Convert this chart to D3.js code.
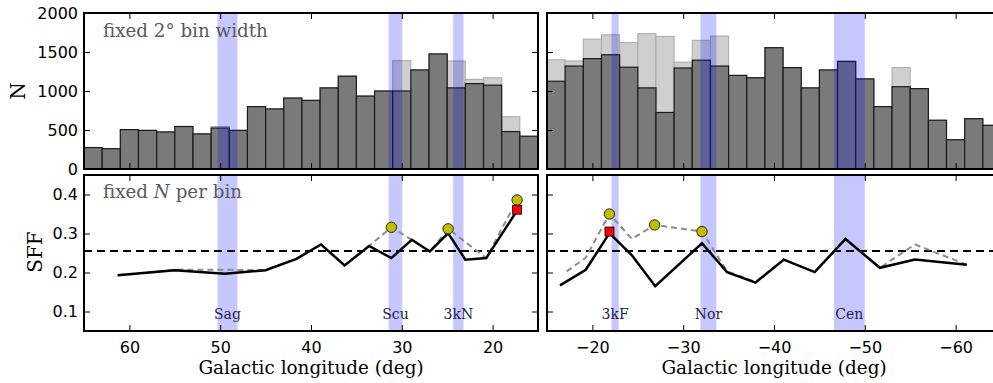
<!DOCTYPE html>
<html lang="en">
<head>
<meta charset="UTF-8">
<title>SFF vs Galactic longitude</title>
<script src="https://d3js.org/d3.v7.min.js"></script>
<style>
  body { margin: 0; background: #fff; }
  .tick text { font-family: "DejaVu Sans", sans-serif; font-size: 16px; fill: #000; }
  .serif { font-family: "DejaVu Serif", serif; }
</style>
</head>
<body>
<svg id="chart" width="993" height="383"></svg>
<script>
// ---- data: left panel (positive longitudes) ----
const leftCenters = [64, 62, 60, 58, 56, 54, 52, 50, 48, 46, 44, 42, 40, 38, 36, 34, 32, 30, 28, 26, 24, 22, 20, 18, 16];
const leftDark  = [275, 260, 505, 495, 475, 545, 450, 525, 495, 800, 770, 910, 880, 1040, 1190, 935, 1000, 1000, 1270, 1475, 1040, 1095, 1075, 480, 420];
const leftLight = [275, 260, 505, 495, 475, 545, 450, 545, 495, 800, 770, 910, 880, 1040, 1190, 935, 1000, 1390, 1270, 1475, 1385, 1150, 1170, 670, 420];

const leftSolidLon = [61.3, 55, 49.5, 45, 41.6, 38.9, 36.3, 33.6, 31.15, 28.9, 26.9, 24.9, 23.0, 20.7, 17.3];
const leftSolidSff = [0.193, 0.206, 0.197, 0.206, 0.235, 0.272, 0.218, 0.268, 0.237, 0.284, 0.254, 0.301, 0.233, 0.237, 0.359];
const leftDashLon = [61.3, 55, 49.5, 45, 41.6, 38.9, 36.3, 33.6, 31.15, 28.9, 26.9, 24.9, 20.7, 17.3];
const leftDashSff = [0.193, 0.207, 0.207, 0.206, 0.235, 0.272, 0.218, 0.268, 0.316, 0.284, 0.254, 0.312, 0.237, 0.386];
const leftCircleLon = [31.15, 24.9, 17.3];
const leftCircleSff = [0.316, 0.312, 0.386];
const leftSquareLon = [17.3];
const leftSquareSff = [0.361];

const leftBandNames = ["Sag", "Scu", "3kN"];
const leftBandLo = [48.1, 29.95, 23.2];
const leftBandHi = [50.3, 31.45, 24.35];

// ---- data: right panel (negative longitudes) ----
const rightCenters = [-16, -18, -20, -22, -24, -26, -28, -30, -32, -34, -36, -38, -40, -42, -44, -46, -48, -50, -52, -54, -56, -58, -60, -62, -64];
const rightDark  = [1125, 1320, 1415, 1465, 1305, 1040, 725, 1295, 1395, 1320, 1200, 1170, 1555, 1300, 1040, 1270, 1380, 1155, 800, 1055, 1030, 625, 375, 645, 560];
const rightLight = [1400, 1385, 1665, 1720, 1620, 1735, 1700, 1370, 1650, 1705, 1200, 1170, 1555, 1300, 1040, 1270, 1380, 1155, 800, 1300, 1030, 625, 375, 645, 560];

const rightSolidLon = [-16.43, -19.27, -21.88, -24.35, -26.92, -32.07, -34.83, -37.96, -41.08, -44.48, -47.87, -51.66, -55.52, -61.23];
const rightSolidSff = [0.167, 0.207, 0.301, 0.244, 0.165, 0.275, 0.201, 0.174, 0.233, 0.201, 0.286, 0.212, 0.233, 0.220];
const rightDashLon = [-17.17, -19.27, -21.88, -24.35, -26.85, -32.07, -34.83, -37.96, -41.08, -44.48, -47.87, -51.66, -55.52, -61.23];
const rightDashSff = [0.203, 0.238, 0.350, 0.286, 0.322, 0.305, 0.203, 0.176, 0.233, 0.201, 0.286, 0.212, 0.272, 0.220];
const rightCircleLon = [-21.88, -26.85, -32.07];
const rightCircleSff = [0.350, 0.322, 0.305];
const rightSquareLon = [-21.88];
const rightSquareSff = [0.305];

const rightBandNames = ["3kF", "Nor", "Cen"];
const rightBandLo = [-22.9, -33.65, -50.0];
const rightBandHi = [-22.1, -31.9, -46.6];

const sffMean = 0.255;
const leftTicks = [60, 50, 40, 30, 20];
const rightTicks = [-20, -30, -40, -50, -60];
const nTicks = [0, 500, 1000, 1500, 2000];
const sffTicks = [0.1, 0.2, 0.3, 0.4];

// ---- layout ----
const svg = d3.select("#chart");
const topY = [13, 169];
const botY = [175, 331];
const binWidth = 2;

const yTop = d3.scaleLinear().domain([0, 2000]).range([topY[1], topY[0]]);
const yBot = d3.scaleLinear().domain([0.05, 0.45]).range([botY[1], botY[0]]);

const fmtLon = d => d < 0 ? "\u2212" + Math.abs(d) : String(d);

const panels = [
  { id: "left", range: [84, 538], domain: [65, 15], centers: leftCenters, dark: leftDark, light: leftLight,
    solid: [leftSolidLon, leftSolidSff], dash: [leftDashLon, leftDashSff],
    circ: [leftCircleLon, leftCircleSff], sq: [leftSquareLon, leftSquareSff],
    bands: [leftBandNames, leftBandLo, leftBandHi], ticks: leftTicks, yLabels: true },
  { id: "right", range: [547, 1001], domain: [-15, -65], centers: rightCenters, dark: rightDark, light: rightLight,
    solid: [rightSolidLon, rightSolidSff], dash: [rightDashLon, rightDashSff],
    circ: [rightCircleLon, rightCircleSff], sq: [rightSquareLon, rightSquareSff],
    bands: [rightBandNames, rightBandLo, rightBandHi], ticks: rightTicks, yLabels: false }
];

const defs = svg.append("defs");

panels.forEach(p => {
  const x = d3.scaleLinear().domain(p.domain).range(p.range);
  const w = p.range[1] - p.range[0];

  // clip paths
  defs.append("clipPath").attr("id", "clipTop-" + p.id)
    .append("rect").attr("x", p.range[0]).attr("y", topY[0]).attr("width", w).attr("height", topY[1] - topY[0]);
  defs.append("clipPath").attr("id", "clipBot-" + p.id)
    .append("rect").attr("x", p.range[0]).attr("y", botY[0]).attr("width", w).attr("height", botY[1] - botY[0]);

  // ---- top: histograms ----
  const gt = svg.append("g").attr("clip-path", `url(#clipTop-${p.id})`);
  const barX = c => Math.min(x(c - binWidth / 2), x(c + binWidth / 2));
  const barW = Math.abs(x(binWidth) - x(0));

  gt.selectAll(".light").data(d3.zip(p.centers, p.light)).join("rect")
    .attr("class", "light")
    .attr("x", d => barX(d[0])).attr("width", barW)
    .attr("y", d => yTop(d[1])).attr("height", d => yTop(0) - yTop(d[1]))
    .attr("fill", "#cfcfcf").attr("stroke", "#a8a8a8").attr("stroke-width", 1);

  gt.selectAll(".dark").data(d3.zip(p.centers, p.dark)).join("rect")
    .attr("class", "dark")
    .attr("x", d => barX(d[0])).attr("width", barW)
    .attr("y", d => yTop(d[1])).attr("height", d => yTop(0) - yTop(d[1]))
    .attr("fill", "#7a7a7a").attr("stroke", "#1a1a1a").attr("stroke-width", 1.2);

  const bands = d3.zip(...p.bands);
  gt.selectAll(".band").data(bands).join("rect")
    .attr("x", d => Math.min(x(d[1]), x(d[2]))).attr("width", d => Math.abs(x(d[2]) - x(d[1])))
    .attr("y", topY[0]).attr("height", topY[1] - topY[0])
    .attr("fill", "#0000ff").attr("fill-opacity", 0.22);

  // ---- bottom: SFF ----
  const gb = svg.append("g").attr("clip-path", `url(#clipBot-${p.id})`);
  gb.selectAll(".band").data(bands).join("rect")
    .attr("x", d => Math.min(x(d[1]), x(d[2]))).attr("width", d => Math.abs(x(d[2]) - x(d[1])))
    .attr("y", botY[0]).attr("height", botY[1] - botY[0])
    .attr("fill", "#0000ff").attr("fill-opacity", 0.22);

  gb.append("line")
    .attr("x1", p.range[0]).attr("x2", p.range[1])
    .attr("y1", yBot(sffMean)).attr("y2", yBot(sffMean))
    .attr("stroke", "#000").attr("stroke-width", 2).attr("stroke-dasharray", "8,5");

  const line = d3.line().x(d => x(d[0])).y(d => yBot(d[1]));
  gb.append("path").datum(d3.zip(...p.dash)).attr("d", line)
    .attr("fill", "none").attr("stroke", "#8c8c8c").attr("stroke-width", 2).attr("stroke-dasharray", "6,4");
  gb.append("path").datum(d3.zip(...p.solid)).attr("d", line)
    .attr("fill", "none").attr("stroke", "#000").attr("stroke-width", 2.5).attr("stroke-linejoin", "miter");

  gb.selectAll(".sq").data(d3.zip(...p.sq)).join("rect")
    .attr("x", d => x(d[0]) - 4.5).attr("y", d => yBot(d[1]) - 4.5)
    .attr("width", 9).attr("height", 9)
    .attr("fill", "#ff0000").attr("stroke", "#000").attr("stroke-width", 0.8);
  gb.selectAll(".circ").data(d3.zip(...p.circ)).join("circle")
    .attr("cx", d => x(d[0])).attr("cy", d => yBot(d[1])).attr("r", 5.2)
    .attr("fill", "#bfbf00").attr("stroke", "#000").attr("stroke-width", 0.8);

  gb.selectAll(".blabel").data(bands).join("text")
    .attr("class", "serif")
    .attr("x", d => (x(d[1]) + x(d[2])) / 2).attr("y", 319)
    .attr("text-anchor", "middle").attr("font-size", 14).attr("fill", "#1e1e4a")
    .text(d => d[0]);

  // ---- axes (inward ticks on all sides) ----
  const clean = g => g.select(".domain").remove();
  const tickStyle = g => g.selectAll(".tick line").attr("stroke", "#000").attr("stroke-width", 1);

  [topY, botY].forEach((yr, i) => {
    svg.append("g").attr("transform", `translate(0,${yr[0]})`)
      .call(d3.axisTop(x).tickValues(p.ticks).tickSize(-6).tickFormat(""))
      .call(clean).call(tickStyle);
    const bottomAxis = d3.axisBottom(x).tickValues(p.ticks).tickSize(-6).tickPadding(10.5)
      .tickFormat(i === 1 ? fmtLon : "");
    svg.append("g").attr("transform", `translate(0,${yr[1]})`)
      .call(bottomAxis).call(clean).call(tickStyle);

    const ys = i === 0 ? yTop : yBot;
    const yt = i === 0 ? nTicks : sffTicks;
    const yf = i === 0 ? d3.format("d") : d3.format(".1f");
    svg.append("g").attr("transform", `translate(${p.range[0]},0)`)
      .call(d3.axisLeft(ys).tickValues(yt).tickSize(-6).tickPadding(6).tickFormat(p.yLabels ? yf : ""))
      .call(clean).call(tickStyle);
    svg.append("g").attr("transform", `translate(${p.range[1]},0)`)
      .call(d3.axisRight(ys).tickValues(yt).tickSize(-6).tickFormat(""))
      .call(clean).call(tickStyle);

    svg.append("rect")
      .attr("x", p.range[0]).attr("y", yr[0]).attr("width", w).attr("height", yr[1] - yr[0])
      .attr("fill", "none").attr("stroke", "#000").attr("stroke-width", 2);
  });

  svg.append("text").attr("class", "serif")
    .attr("x", (p.range[0] + p.range[1]) / 2).attr("y", 374)
    .attr("text-anchor", "middle").attr("font-size", 18.4)
    .text("Galactic longitude (deg)");
});

// ---- panel annotations and y titles ----
svg.append("text").attr("class", "serif")
  .attr("x", 103).attr("y", 37).attr("font-size", 18.3).attr("fill", "#5a5a5a")
  .text("fixed 2\u00B0 bin width");

const t2 = svg.append("text").attr("class", "serif")
  .attr("x", 103).attr("y", 198).attr("font-size", 18.3).attr("fill", "#5a5a5a");
t2.append("tspan").text("fixed ");
t2.append("tspan").attr("font-style", "italic").text("N");
t2.append("tspan").text(" per bin");

svg.append("text").attr("class", "serif")
  .attr("transform", "translate(25,91) rotate(-90)")
  .attr("text-anchor", "middle").attr("font-size", 20)
  .text("N");
svg.append("text").attr("class", "serif")
  .attr("transform", "translate(41.5,252) rotate(-90)")
  .attr("text-anchor", "middle").attr("font-size", 20)
  .text("SFF");
</script>
</body>
</html>
